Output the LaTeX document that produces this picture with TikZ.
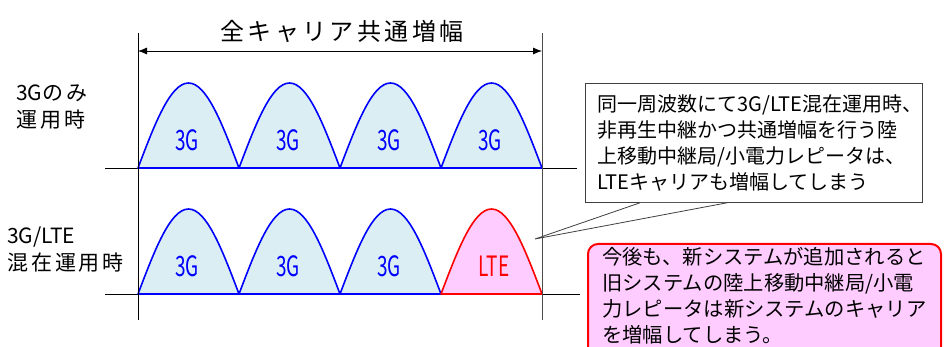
\documentclass[tikz,border=0pt]{standalone}
\usepackage{fontspec}
\setmainfont{Noto Sans CJK JP}
\newfontfamily\titlefont[LetterSpace=14]{Noto Sans CJK JP}
\newfontfamily\sidefont[LetterSpace=14]{Noto Sans CJK JP}
\usetikzlibrary{arrows.meta,calc}
\definecolor{humpblue}{HTML}{DAEEF3}
\definecolor{humppink}{HTML}{FFCCFF}
\definecolor{boxgray}{HTML}{404040}
\newcommand\condtxt[1]{\scalebox{0.68}[1]{#1}}
\begin{document}
\begin{tikzpicture}[x=1pt,y=-1pt,
  hump/.style={draw=blue,fill=humpblue,line width=1.6pt,line join=round},
  ltehump/.style={draw=red,fill=humppink,line width=1.6pt,line join=round},
  axis/.style={draw=black,line width=0.8pt},
  guide/.style={draw=black,line width=0.8pt},
  dimline/.style={draw=black,line width=0.8pt,{Latex[length=9pt,width=7pt]}-{Latex[length=9pt,width=7pt]}},
  carrier/.style={font=\fontsize{28}{28}\selectfont,text=blue,inner sep=0pt},
  ltecarrier/.style={font=\fontsize{28}{28}\selectfont,text=red,inner sep=0pt},
  sidelabel/.style={font=\fontsize{21}{27}\selectfont,align=left,inner sep=0pt,anchor=west},
  notebox/.style={draw=boxgray,fill=white,line width=0.8pt,anchor=north west,align=left,
    font=\fontsize{20}{26}\selectfont,minimum width=337pt,minimum height=119pt,
    inner xsep=12pt,text width=313pt},
  warnframe/.style={draw=red,fill=humppink,line width=2pt,rounded corners=10pt,anchor=north west,
    minimum width=353pt,minimum height=125pt,inner sep=0pt},
  warntext/.style={anchor=north west,align=left,inner sep=0pt,
    font=\fontsize{20.3}{26}\selectfont}
]
\clip (0,0) rectangle (944,347);
\fill[white] (0,0) rectangle (944,347);

% coordinates
\foreach \i/\x in {0/138,1/239,2/340,3/441,4/542}{
  \coordinate (t\i) at (\x,168);
  \coordinate (b\i) at (\x,294);
}
\foreach \i/\x in {1/188.5,2/289.5,3/390.5,4/491.5}{
  \coordinate (tp\i) at (\x,83);
  \coordinate (bp\i) at (\x,209);
}

% axes
\coordinate (tax1) at (105,168); \coordinate (tax2) at (577,168);
\coordinate (bax1) at (105,294); \coordinate (bax2) at (580,294);
\draw[axis] (tax1) -- (tax2);
\draw[axis] (bax1) -- (bax2);

% humps top row
\filldraw[hump] (t0) .. controls +(16.7,-44.1) and +(-18.2,0) .. (tp1) .. controls +(18.2,0) and +(-16.7,-44.1) .. (t1) -- cycle;
\filldraw[hump] (t1) .. controls +(16.7,-44.1) and +(-18.2,0) .. (tp2) .. controls +(18.2,0) and +(-16.7,-44.1) .. (t2) -- cycle;
\filldraw[hump] (t2) .. controls +(16.7,-44.1) and +(-18.2,0) .. (tp3) .. controls +(18.2,0) and +(-16.7,-44.1) .. (t3) -- cycle;
\filldraw[hump] (t3) .. controls +(16.7,-44.1) and +(-18.2,0) .. (tp4) .. controls +(18.2,0) and +(-16.7,-44.1) .. (t4) -- cycle;
% humps bottom row
\filldraw[hump] (b0) .. controls +(16.7,-44.1) and +(-18.2,0) .. (bp1) .. controls +(18.2,0) and +(-16.7,-44.1) .. (b1) -- cycle;
\filldraw[hump] (b1) .. controls +(16.7,-44.1) and +(-18.2,0) .. (bp2) .. controls +(18.2,0) and +(-16.7,-44.1) .. (b2) -- cycle;
\filldraw[hump] (b2) .. controls +(16.7,-44.1) and +(-18.2,0) .. (bp3) .. controls +(18.2,0) and +(-16.7,-44.1) .. (b3) -- cycle;
\filldraw[ltehump] (b3) .. controls +(16.7,-44.1) and +(-18.2,0) .. (bp4) .. controls +(18.2,0) and +(-16.7,-44.1) .. (b4) -- cycle;

% carrier labels
\node[carrier] (c1) at (187,140) {\condtxt{3G}};
\node[carrier] (c2) at (288,140) {\condtxt{3G}};
\node[carrier] (c3) at (389,140) {\condtxt{3G}};
\node[carrier] (c4) at (490,140) {\condtxt{3G}};
\node[carrier] (d1) at (187,266) {\condtxt{3G}};
\node[carrier] (d2) at (288,266) {\condtxt{3G}};
\node[carrier] (d3) at (389,266) {\condtxt{3G}};
\node[ltecarrier] (d4) at (494,266) {\condtxt{LTE}};

% callout box with tail
\coordinate (tip) at (535,239);
\node[notebox] (note1) at (585,83) {同一周波数にて3G/LTE混在運用時、\\非再生中継かつ共通増幅を行う陸\\上移動中継局/小電力レピータは、\\LTEキャリアも増幅してしまう};
\coordinate (tl1) at ($(note1.south west)+(55,0)$);
\coordinate (tl2) at ($(note1.south west)+(142,0)$);
\fill[white] (tl1) -- (tip) -- (tl2) -- cycle;
\draw[boxgray,line width=0.8pt] (tl1) -- (tip) -- (tl2);

% guides
\coordinate (gl1) at (138,33); \coordinate (gl2) at (138,320);
\coordinate (gr1) at (542,33); \coordinate (gr2) at (542,320);
\draw[guide] (gl1) -- (gl2);
\draw[guide,draw=black!70] (gr1) -- (gr2);
\coordinate (ar1) at (138,51); \coordinate (ar2) at (542,51);
\draw[dimline] (ar1) -- (ar2);

% title
\node[font=\titlefont\fontsize{24}{24}\selectfont,inner sep=0pt] (title) at (342,31) {全キャリア共通増幅};

% side labels
\node[sidelabel] (side1) at (16,107) {3G{\sidefont のみ}\\{\sidefont 運用時}};
\node[sidelabel] (side2) at (7,250) {3G/LTE\\{\sidefont 混在運用時}};

% warning box
\node[warnframe] (note2) at (587,243) {};
\node[warntext] (note2text) at ($(note2.north west)+(15,4)$) {今後も、新システムが追加されると\\旧システムの陸上移動中継局/小電\\力レピータは新システムのキャリア\\を増幅してしまう。};
\end{tikzpicture}
\end{document}
